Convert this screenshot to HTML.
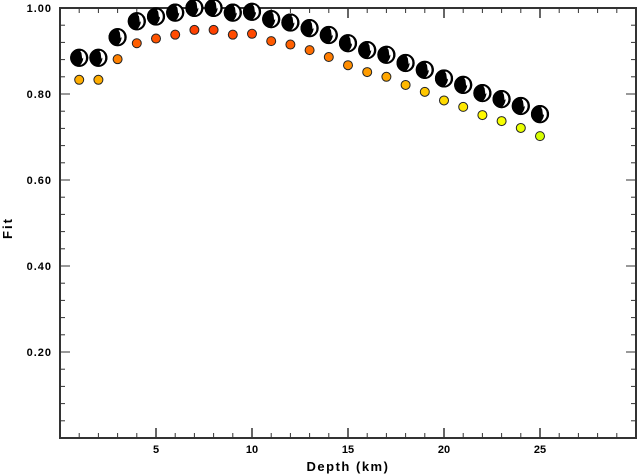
<!DOCTYPE html>
<html><head><meta charset="utf-8"><style>
body{margin:0;background:#fff}
svg{display:block;font-family:"Liberation Sans",sans-serif}
</style></head><body>
<svg id="chart" width="637" height="474" xmlns="http://www.w3.org/2000/svg">
<g id="axes"></g><g id="marks"></g>
</svg>
<script>
const depths=[1,2,3,4,5,6,7,8,9,10,11,12,13,14,15,16,17,18,19,20,21,22,23,24,25];
const fits=[0.833,0.833,0.881,0.918,0.929,0.938,0.949,0.949,0.938,0.940,0.923,0.915,0.902,0.886,0.867,0.851,0.840,0.821,0.805,0.785,0.770,0.751,0.737,0.721,0.702];
const xTickLabels=["5","10","15","20","25"];
const yTickLabels=["0.20","0.40","0.60","0.80","1.00"];
const L=60,R=636,T=8,B=438;
const xs=v=>L+(v-0)/(30-0)*(R-L);
const ys=v=>B-(v-0)/(1-0)*(B-T);
const NS="http://www.w3.org/2000/svg";
function mk(tag,attrs,parent){const e=document.createElementNS(NS,tag);for(const k in attrs)e.setAttribute(k,attrs[k]);parent.appendChild(e);return e;}
const ax=document.getElementById('axes'),mg=document.getElementById('marks');
const frame=mk('rect',{x:L,y:T,width:R-L,height:B-T,fill:'none',stroke:'#333',"stroke-width":2},ax);


for(let d=1;d<30;d++){
  const maj=d%5===0,len=maj?10:5,x=xs(d);
  mk('line',{x1:x,y1:B,x2:x,y2:B-len,stroke:'#333',"stroke-width":maj?1.5:1},ax);
  mk('line',{x1:x,y1:T,x2:x,y2:T+len,stroke:'#333',"stroke-width":maj?1.5:1},ax);
}
xTickLabels.forEach(s=>{
  const t=mk('text',{x:xs(+s),y:453,"text-anchor":"middle","font-size":11,"font-weight":"bold"},ax);
  t.textContent=s;
  
  
});
for(let i=1;i<25;i++){
  const v=i*0.04,maj=i%5===0,len=maj?10:5,y=ys(v);
  mk('line',{x1:L,y1:y,x2:L+len,y2:y,stroke:'#333',"stroke-width":1},ax);
  mk('line',{x1:R,y1:y,x2:R-len,y2:y,stroke:'#333',"stroke-width":1},ax);
}
yTickLabels.forEach(s=>{
  const t=mk('text',{x:52,y:ys(+s)+4,"text-anchor":"end","font-size":11,"font-weight":"bold","letter-spacing":"1"},ax);
  t.textContent=s;
  
  
});
const xt=mk('text',{x:348,y:471,"text-anchor":"middle","font-size":13,"font-weight":"bold","letter-spacing":"1.5"},ax);
xt.textContent='Depth (km)';


const yt=mk('text',{x:12,y:228,"text-anchor":"middle","font-size":13,"font-weight":"bold","letter-spacing":"2",transform:"rotate(-90 12 228)"},ax);
yt.textContent='Fit';


depths.forEach((d,i)=>{
  const f=fits[i],x=xs(d),y=ys(f);
  const hue=Math.max(10,Math.min(75,15+(0.95-f)/0.25*55));
  const c=mk('circle',{cx:x,cy:y,r:4.5,fill:`hsl(${hue},100%,50%)`,stroke:'#222',"stroke-width":1},mg);
  
  
  const by=y-22,r=8.5;
  const g=mk('g',{},mg);
  
  
  mk('circle',{cx:x,cy:by,r:r,fill:'#000',stroke:'#000',"stroke-width":1},g);
  mk('path',{d:`M${x+1} ${by-r+2} Q${x+7} ${by} ${x+1} ${by+r-1} L${x+3} ${by+r-2} A${r-1} ${r-1} 0 0 0 ${x+2} ${by-r+1.5} Z`,fill:'#fff'},g);
  mk('path',{d:`M${x+2} ${by-r+2} L${x+6} ${by-2} L${x+3} ${by+1} Z`,fill:'#fff'},g);
  mk('circle',{cx:x,cy:by,r:r,fill:'none',stroke:'#000',"stroke-width":1.2},g);
});
</script>
</body></html>
